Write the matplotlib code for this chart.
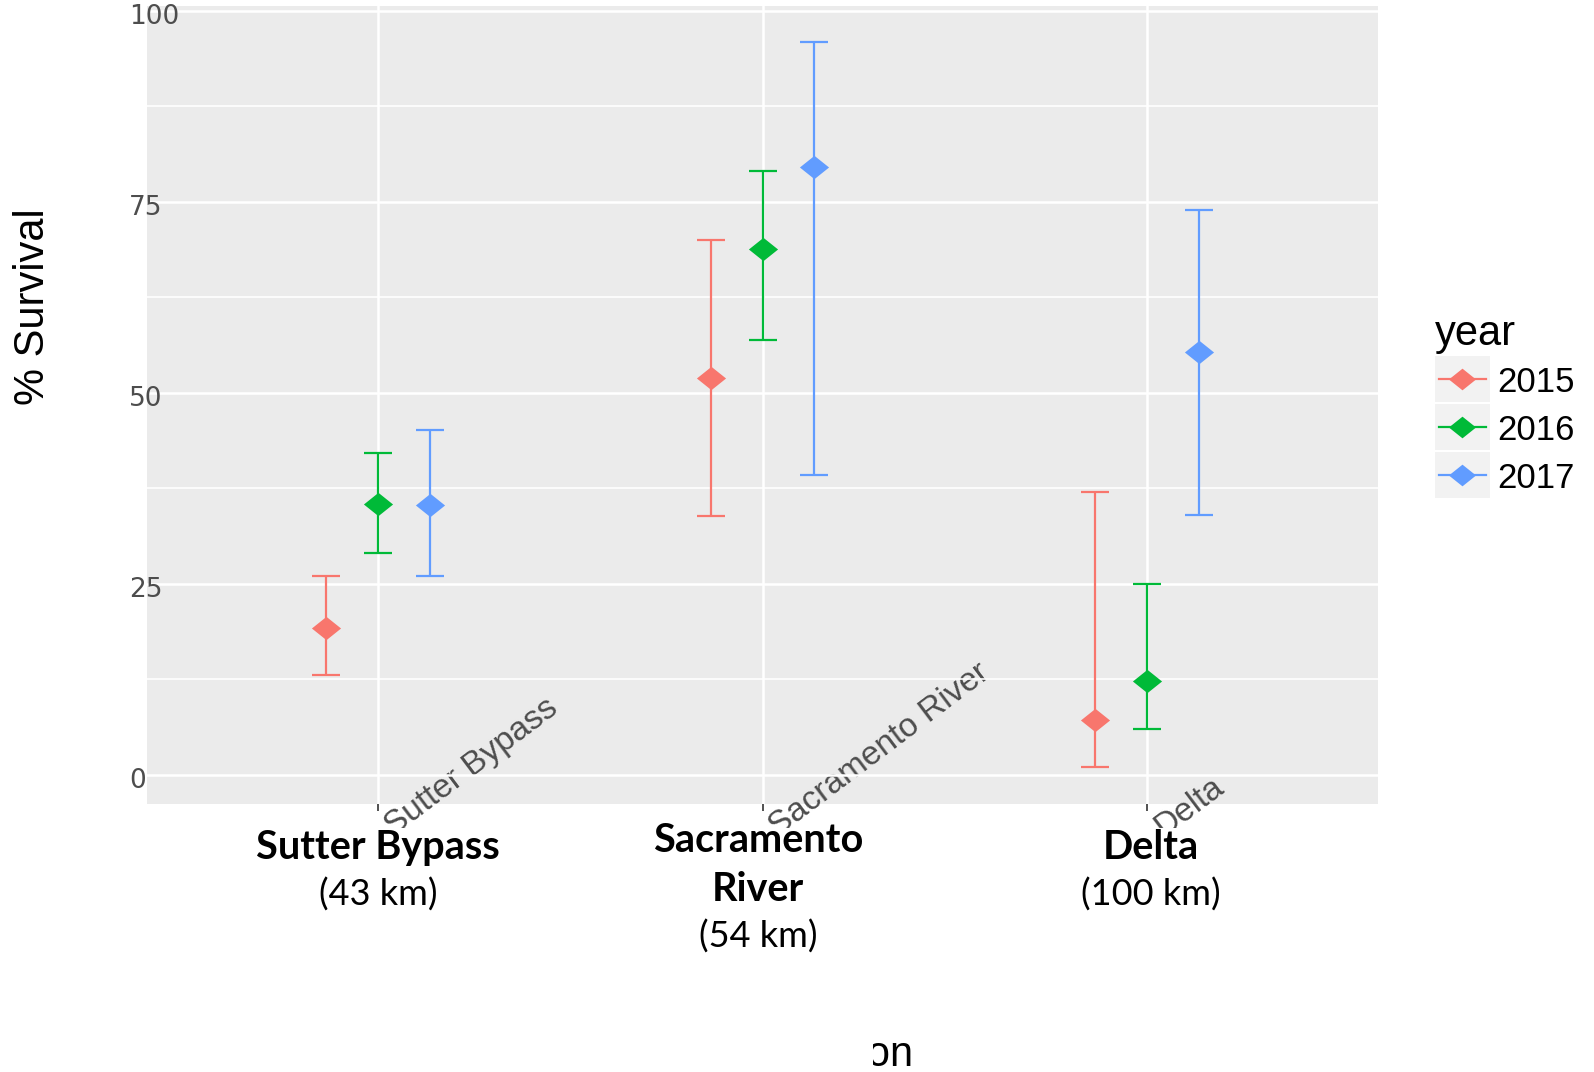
import numpy as np
import matplotlib
matplotlib.use("Agg")
import matplotlib.pyplot as plt
from matplotlib import font_manager
from matplotlib.path import Path
from matplotlib.patches import Rectangle
from matplotlib.lines import Line2D
from matplotlib.transforms import ScaledTranslation

# ---------------- data ----------------
locations = ["Sutter Bypass", "Sacramento River", "Delta"]
years = ["2015", "2016", "2017"]
est_2015 = [19.2, 51.9, 7.2]
lo_2015 = [13.1, 33.9, 1.1]
hi_2015 = [26.0, 70.0, 37.0]
est_2016 = [35.5, 68.9, 12.3]
lo_2016 = [29.0, 56.9, 6.0]
hi_2016 = [42.1, 79.0, 25.0]
est_2017 = [35.3, 79.6, 55.3]
lo_2017 = [26.0, 39.2, 34.0]
hi_2017 = [45.2, 96.0, 73.9]
overlay_names = [["Sutter Bypass"], ["Sacramento", "River"], ["Delta"]]
overlay_dist = ["(43 km)", "(54 km)", "(100 km)"]
y_ticks = [0, 25, 50, 75, 100]
colors = ["#F8766D", "#00BA38", "#619CFF"]

series = [(est_2015, lo_2015, hi_2015), (est_2016, lo_2016, hi_2016), (est_2017, lo_2017, hi_2017)]

# ---------------- fonts ----------------
names = {f.name for f in font_manager.fontManager.ttflist}
overlay_font = "Lato" if "Lato" in names else "Liberation Sans"
sans = "Liberation Sans"

W, H = 1594, 1072
def fx(p): return p / W
def fy(p): return 1 - p / H

fig = plt.figure(figsize=(W / 100, H / 100), dpi=100)
fig.patch.set_facecolor("white")
ax = fig.add_axes([fx(147), fy(804), (1378 - 147) / W, (804 - 6) / H])
ax.set_facecolor("#EBEBEB")
for s in ax.spines.values():
    s.set_visible(False)

diamond = Path([(0, 1), (1.25, 0), (0, -1), (-1.25, 0), (0, 1)],
               [Path.MOVETO, Path.LINETO, Path.LINETO, Path.LINETO, Path.CLOSEPOLY])

xbase = np.arange(1, len(locations) + 1)
offsets = [-0.135, 0.0, 0.135]
for (est, lo, hi), c, off in zip(series, colors, offsets):
    est = np.array(est); lo = np.array(lo); hi = np.array(hi)
    ax.errorbar(xbase + off, est, yerr=[est - lo, hi - est], fmt="none",
                ecolor=c, elinewidth=1.6, capsize=9.8, capthick=1.6, zorder=3)
    ax.plot(xbase + off, est, linestyle="none", marker=diamond, markersize=21,
            markerfacecolor=c, markeredgewidth=0, zorder=4)

ax.set_xlim(0.4, 3.6)
ax.set_ylim(-3.8, 100.65)
ax.set_yticks(y_ticks)
ax.set_yticks([12.5, 37.5, 62.5, 87.5], minor=True)
ax.set_yticklabels([str(t) for t in y_ticks], family="DejaVu Sans", fontsize=19,
                   color="#4D4D4D", ha="left")
ax.tick_params(axis="y", which="both", length=0, pad=13)
for lab in ax.get_yticklabels():
    lab.set_transform(lab.get_transform() + ScaledTranslation(0, -3 / 100, fig.dpi_scale_trans))
ax.set_xticks(xbase)
ax.set_xticklabels(locations, family=sans, fontsize=24, color="#4D4D4D",
                   rotation=37, ha="left", va="baseline", rotation_mode="anchor")
ax.tick_params(axis="x", length=5, width=1.2, color="#333333", pad=18.6)
for lab in ax.get_xticklabels():
    lab.set_transform(lab.get_transform() + ScaledTranslation(16 / 100, 0, fig.dpi_scale_trans))

ax.grid(True, which="major", color="white", linewidth=1.8)
ax.grid(True, which="minor", axis="y", color="white", linewidth=1.2)
ax.set_axisbelow(True)

ax.set_ylabel("% Survival", family=sans, fontsize=30, color="black")
ax.yaxis.set_label_coords((33 - 147) / 1231, (804 - 307) / 798)
ax.yaxis.label.set_va("center")
ax.set_xlabel("Location", family=sans, fontsize=30, color="black", ha="right", va="baseline")
ax.xaxis.set_label_coords((914 - 147) / 1231, -(1066 - 804) / 798)

# white cover boxes (overlay area)
fig.add_artist(Rectangle((0, fy(1040)), 1, fy(828) - fy(1040), transform=fig.transFigure,
                         facecolor="white", edgecolor="none", zorder=5))
fig.add_artist(Rectangle((0, 0), fx(873), fy(1040), transform=fig.transFigure,
                         facecolor="white", edgecolor="none", zorder=5))

# overlay labels
cx = [378, 758, 1151]
for i in range(len(locations)):
    lines = overlay_names[i]
    base = 859 if len(lines) == 1 else 852
    for j, t in enumerate(lines):
        fig.text(fx(cx[i]), fy(base + 49 * j), t, family=overlay_font, fontweight="bold",
                 fontsize=28.5, ha="center", va="baseline", color="black", zorder=6)
    fig.text(fx(cx[i]), fy(base + 49 * len(lines) - 2), overlay_dist[i], family=overlay_font,
             fontsize=26, ha="center", va="baseline", color="black", zorder=6)

# legend
fig.text(fx(1435), fy(345), "year", family=sans, fontsize=30, ha="left", va="baseline")
key_tops = [356, 404, 452]
for yr, c, top in zip(years, colors, key_tops):
    fig.add_artist(Rectangle((fx(1435), fy(top + 46)), 55 / W, 46 / H, transform=fig.transFigure,
                             facecolor="#F2F2F2", edgecolor="none", zorder=2))
    cy = top + 23
    fig.add_artist(Line2D([fx(1439), fx(1486)], [fy(cy), fy(cy)], transform=fig.transFigure,
                          color=c, linewidth=1.6, zorder=3))
    fig.add_artist(Line2D([fx(1462)], [fy(cy)], transform=fig.transFigure, linestyle="none",
                          marker=diamond, markersize=19.5, markerfacecolor=c,
                          markeredgewidth=0, zorder=4))
    fig.text(fx(1497), fy(cy), yr, family=sans, fontsize=25, ha="left", va="center_baseline")

fig.savefig("out.png", dpi=100, facecolor="white")
